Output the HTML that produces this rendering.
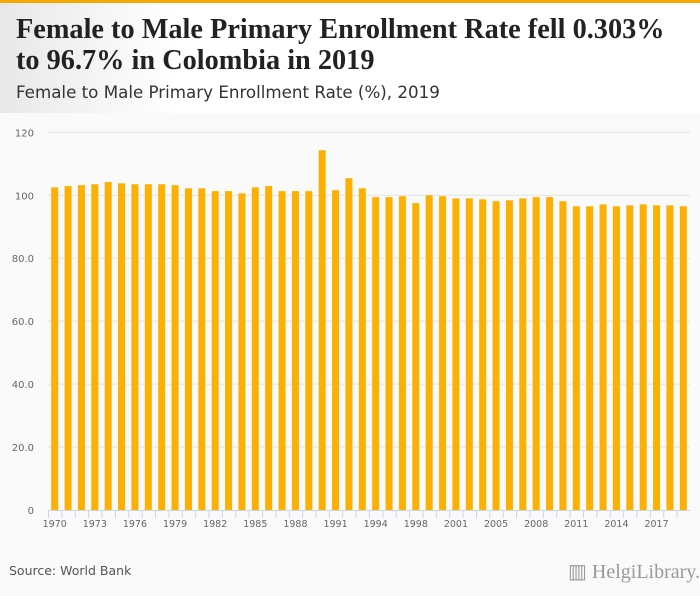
<!DOCTYPE html>
<html><head><meta charset="utf-8"><style>
body{margin:0;width:700px;height:596px;overflow:hidden;background:#fafafa;font-family:"Liberation Sans",sans-serif;position:relative}
#top{position:absolute;left:0;top:0;width:700px;height:3px;background:#f5a800}
#head{position:absolute;left:0;top:3px;width:700px;height:110px;background:linear-gradient(90deg,#e8e8e8 0,#fff 25%,#fff 100%)}
h1{position:absolute;left:16px;top:11px;margin:0;font-family:"Liberation Serif",serif;font-size:28.3px;line-height:31px;font-weight:bold;color:#222}
h2{position:absolute;left:16px;top:79px;margin:0;font-family:"DejaVu Sans",sans-serif;font-size:16.7px;font-weight:normal;color:#333}
#src{position:absolute;left:9px;top:563px;font-family:"DejaVu Sans",sans-serif;font-size:12.5px;color:#555}
#logo{position:absolute;left:568px;top:559px;font-family:"Liberation Serif",serif;font-size:20px;color:#999}
</style></head><body>
<div id="top"></div>
<div id="head">
<h1>Female to Male Primary Enrollment Rate fell 0.303%<br>to 96.7% in Colombia in 2019</h1>
<h2>Female to Male Primary Enrollment Rate (%), 2019</h2>
</div>
<svg id="chart" width="700" height="596" style="position:absolute;left:0;top:0"></svg>
<div id="src">Source: World Bank</div>
<div id="logo">▥ HelgiLibrary.</div>
<script>
const years=[1970,1971,1972,1973,1974,1975,1976,1977,1978,1979,1980,1981,1982,1983,1984,1985,1986,1987,1988,1989,1990,1991,1992,1993,1994,1995,1997,1998,1999,2000,2001,2002,2004,2005,2006,2007,2008,2009,2010,2011,2012,2013,2014,2015,2016,2017,2018,2019];
const values=[102.5,102.9,103.2,103.5,104.2,103.8,103.5,103.5,103.5,103.2,102.2,102.2,101.3,101.3,100.6,102.5,102.9,101.3,101.3,101.3,114.3,101.6,105.4,102.2,99.4,99.4,99.7,97.5,100,99.7,99.0,99.0,98.7,98.1,98.4,99.0,99.4,99.4,98.1,96.5,96.5,97.1,96.5,96.8,97.1,96.8,96.8,96.5];
const yTicks=[0,20,40,60,80,100,120];
const yTickLabels=["0","20.0","40.0","60.0","80.0","100","120"];
const svg=document.getElementById('chart');const NS='http://www.w3.org/2000/svg';
const x0=48,x1=690,y0=510,yTop=132.3,yMax=120;
const step=(x1-x0)/years.length;
const y=v=>y0-(v/yMax)*(y0-yTop);
const xb=i=>x0+i*step;
function mk(t,a){const e=document.createElementNS(NS,t);for(const k in a)e.setAttribute(k,a[k]);svg.appendChild(e);return e;}
yTicks.forEach((t,i)=>{
 if(t>0){const g=mk('line',{x1:x0,x2:x1,y1:y(t),y2:y(t),stroke:'#e2e2e2','stroke-width':1});
 
 }
 const l=mk('text',{x:34,y:y(t)+4,'text-anchor':'end','font-size':'10','fill':'#666','font-family':'DejaVu Sans,sans-serif'});
 l.textContent=yTickLabels[i];
 
 
});
const ax=mk('line',{x1:x0,x2:x1,y1:y0+0.5,y2:y0+0.5,stroke:'#ccd6eb'});


years.forEach((yr,i)=>{
 const tk=mk('line',{x1:xb(i)+0.5,x2:xb(i)+0.5,y1:y0,y2:y0+8,stroke:'#ccd6eb'});
 
 
 const bw=7;
 const b=mk('rect',{x:xb(i)+step/2-bw/2,y:y(values[i]),width:bw,height:y0-y(values[i]),fill:'#fbb003'});
 
 
 if(i%3===0){const l=mk('text',{x:xb(i)+step/2,y:527,'text-anchor':'middle','font-size':'9.5','fill':'#666','font-family':'DejaVu Sans,sans-serif'});
 l.textContent=yr;
 
 }
});
</script>
</body></html>
